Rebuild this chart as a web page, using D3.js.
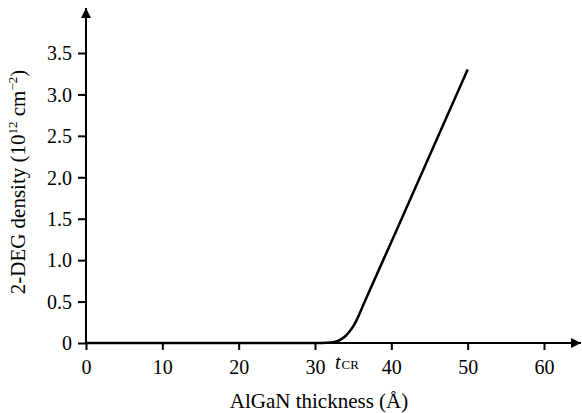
<!DOCTYPE html>
<html>
<head>
<meta charset="utf-8">
<script src="https://cdn.jsdelivr.net/npm/d3@7"></script>
<style>
  body { margin: 0; background: #fff; }
  svg, svg text { font-family: "Liberation Serif", "Times New Roman", serif; }
</style>
</head>
<body>
<script>
// AlGaN thickness (Angstrom) and 2-DEG density (1e12 cm^-2)
let thickness = [0, 10, 20, 30, 31, 32, 33, 33.5, 34, 34.5, 35, 35.5, 36, 37, 40, 45, 50];
let density = [0, 0, 0, 0, 0, 0.005, 0.025, 0.05, 0.085, 0.135, 0.2, 0.285, 0.39, 0.6, 1.22, 2.26, 3.3];

let xTicks = [0, 10, 20, 30, 40, 50, 60];
let yTicks = [0, 0.5, 1.0, 1.5, 2.0, 2.5, 3.0, 3.5];
let yTickLabels = ["0", "0.5", "1.0", "1.5", "2.0", "2.5", "3.0", "3.5"];

let data = thickness.map(function(t, i) { return {t: t, n: density[i]}; });

let width = 582, height = 413;

let svg = d3.select("body").append("svg")
  .attr("width", width)
  .attr("height", height)
  .style("display", "block");

// scales
let xScale = d3.scaleLinear().domain([0, 60]).range([86, 544]);
let yScale = d3.scaleLinear().domain([0, 3.5]).range([343, 53]);

// arrow heads
let defs = svg.append("defs");
defs.append("marker")
  .attr("id", "arrow")
  .attr("viewBox", "0 0 10 10")
  .attr("refX", 10).attr("refY", 5)
  .attr("markerWidth", 10).attr("markerHeight", 10)
  .attr("markerUnits", "userSpaceOnUse")
  .attr("orient", "auto")
  .append("path")
  .attr("d", "M0,0 L10,5 L0,10 Z")
  .attr("fill", "#000");

// x axis
let xAxis = d3.axisBottom(xScale)
  .tickValues(xTicks)
  .tickSize(7)
  .tickSizeOuter(0)
  .tickFormat(d3.format("d"));

let xAxisEl = svg.append("g")
  .attr("transform", "translate(0," + yScale(0) + ")")
  .call(xAxis)
  .attr("font-family", null)
  .attr("font-size", null);
xAxisEl.select(".domain").remove();
xAxisEl.selectAll("line").attr("stroke", "#000").attr("stroke-width", 2);
xAxisEl.selectAll("text")
  .attr("y", 31).attr("dy", null)
  .style("font-size", "20px")
  .attr("fill", "#000");

// y axis
let yAxis = d3.axisLeft(yScale)
  .tickValues(yTicks)
  .tickSize(8)
  .tickSizeOuter(0)
  .tickFormat(function(d, i) { return yTickLabels[i]; });

let yAxisEl = svg.append("g")
  .attr("transform", "translate(" + xScale(0) + ",0)")
  .call(yAxis)
  .attr("font-family", null)
  .attr("font-size", null);
yAxisEl.select(".domain").remove();
yAxisEl.selectAll("line").attr("stroke", "#000").attr("stroke-width", 2);
yAxisEl.selectAll("text")
  .attr("x", -14)
  .attr("dy", "0.34em")
  .style("font-size", "20px")
  .attr("fill", "#000");

// axis lines with arrows
svg.append("line")
  .attr("x1", xScale(0) - 1).attr("y1", yScale(0))
  .attr("x2", 581).attr("y2", yScale(0))
  .attr("stroke", "#000").attr("stroke-width", 2)
  .attr("marker-end", "url(#arrow)");

svg.append("line")
  .attr("x1", xScale(0)).attr("y1", yScale(0) + 1)
  .attr("x2", xScale(0)).attr("y2", 8)
  .attr("stroke", "#000").attr("stroke-width", 2)
  .attr("marker-end", "url(#arrow)");

// density curve
let line = d3.line()
  .x(function(d) { return xScale(d.t); })
  .y(function(d) { return yScale(d.n); })
  .curve(d3.curveMonotoneX);

svg.append("path")
  .datum(data)
  .attr("d", line)
  .attr("fill", "none")
  .attr("stroke", "#000")
  .attr("stroke-width", 2.5);

// t_CR label
let tcr = svg.append("text")
  .attr("x", 335).attr("y", 369)
  .attr("fill", "#000");
tcr.append("tspan").style("font-size", "20px").style("font-style", "italic").text("t");
tcr.append("tspan").style("font-size", "13px").attr("dx", 1).text("CR");

// axis titles
svg.append("text")
  .attr("x", 319).attr("y", 408)
  .attr("text-anchor", "middle")
  .style("font-size", "21px")
  .attr("fill", "#000")
  .text("AlGaN thickness (\u00C5)");

let yTitle = svg.append("text")
  .attr("transform", "translate(25,182) rotate(-90)")
  .attr("text-anchor", "middle")
  .style("font-size", "21px")
  .attr("fill", "#000");
yTitle.append("tspan").text("2-DEG density (10");
yTitle.append("tspan").style("font-size", "13px").attr("dy", -8).text("12");
yTitle.append("tspan").attr("dy", 8).text(" cm");
yTitle.append("tspan").style("font-size", "13px").attr("dy", -8).text("\u22122");
yTitle.append("tspan").attr("dy", 8).text(")");
</script>
</body>
</html>
